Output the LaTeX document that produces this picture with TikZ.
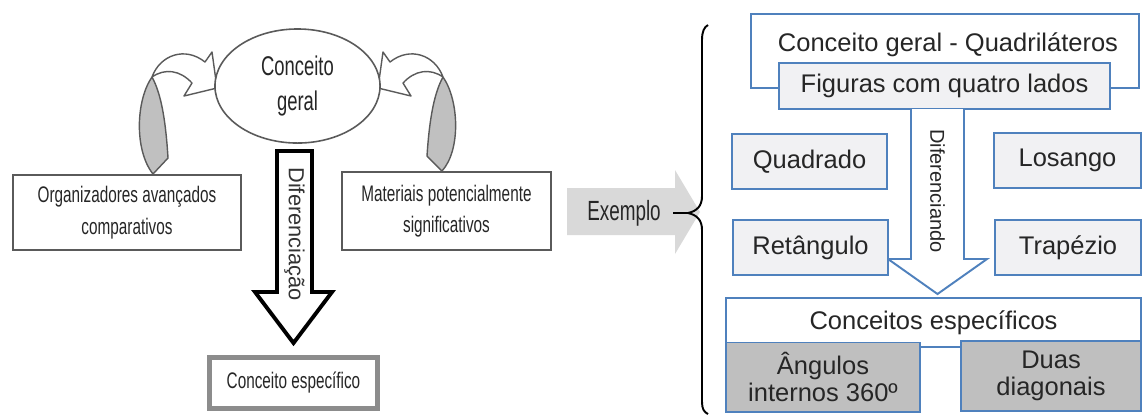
\documentclass[tikz,border=0pt]{standalone}
\usepackage{fontspec}
\setmainfont{Liberation Sans}
\newfontfamily\narrowfont[FakeStretch=0.68]{Liberation Sans}
\usepackage{tikz}
\usetikzlibrary{shapes.geometric}
\definecolor{boxblue}{RGB}{79,129,189}
\definecolor{lightfill}{RGB}{241,241,243}
\definecolor{darkfill}{RGB}{191,191,191}
\definecolor{arrowgray}{RGB}{217,217,217}
\definecolor{edgegray}{RGB}{90,90,90}
\definecolor{bandgray}{RGB}{192,192,192}

\begin{document}
\begin{tikzpicture}[x=0.01cm,y=-0.01cm,
  leftbox/.style={draw=edgegray,line width=0.5pt,fill=white,align=center,inner sep=0pt,
    font=\narrowfont\fontsize{6.4}{9}\selectfont,text=black!85},
  rightbox/.style={draw=boxblue,line width=0.55pt,align=center,inner sep=0pt,
    font=\fontsize{7.25}{7.7}\selectfont,text=black!85},
  bendarrow/.style={draw=edgegray,line width=0.4pt,line join=round}]
  \useasboundingbox (0,0) rectangle (1146,414);
  \draw[bendarrow,fill=bandgray] (152,77) .. controls (136,100) and (134,150) .. (153,174)
    -- (168,158) .. controls (166,125) and (162,95) .. (152,77);
  \draw[bendarrow,fill=white] (152,77) .. controls (160,55) and (185,46) .. (205,62)
    -- (212,52) -- (217,88) -- (184,96) -- (192,83) .. controls (180,70) and (165,68) .. (152,77) -- cycle;
  \draw[bendarrow,fill=bandgray] (443,77) .. controls (459,100) and (461,150) .. (442,171)
    -- (427,156) .. controls (429,125) and (433,95) .. (443,77);
  \draw[bendarrow,fill=white] (443,77) .. controls (435,55) and (410,46) .. (390,62)
    -- (383,52) -- (378,88) -- (411,96) -- (403,83) .. controls (415,70) and (430,68) .. (443,77) -- cycle;
  \node[ellipse,draw=edgegray,line width=0.45pt,fill=white,minimum width=1.65cm,minimum height=1.14cm,
    inner sep=0pt,align=center,font=\narrowfont\fontsize{7.7}{10}\selectfont,text=black!85] (cg) at (297.5,86) {Conceito\\geral};
  \node[leftbox,minimum width=2.28cm,minimum height=0.75cm] (org) at (127,212.5) {Organizadores avançados\\comparativos};
  \node[leftbox,minimum width=2.09cm,minimum height=0.78cm] (mat) at (446.5,211) {Materiais potencialmente\\significativos};
  \draw[line width=1.1pt,fill=white,line join=miter] (277,151) -- (312,151) -- (312,292) -- (332,292)
    -- (293.5,343) -- (255,292) -- (277,292) -- cycle;
  \node[rotate=-90,font=\fontsize{6.2}{6.5}\selectfont,text=black!80] (dif) at (294.5,234) {Diferenciação};
  \node[leftbox,draw=gray!90,line width=1.4pt,minimum width=1.68cm,minimum height=0.51cm] (ce) at (293.5,383) {Conceito específico};

  \fill[arrowgray] (567,188) -- (675,188) -- (675,170) -- (700,212) -- (675,254) -- (675,235) -- (567,235) -- cycle;
  \node[font=\narrowfont\fontsize{7.9}{8}\selectfont,text=black!85] (ex) at (624,213) {Exemplo};
  \coordinate (bt) at (688,213);
  \draw[line width=0.55pt] (ex.east) -- (bt);
  \draw[line width=0.55pt] (708,25) .. controls (704,27) and (702,32) .. (702,40) -- (702,196)
    .. controls (702,206) and (697,211) .. (bt) .. controls (697,215) and (702,220) .. (702,230)
    -- (702,402) .. controls (702,409) and (704,412) .. (708,414);

  \node[rightbox,fill=white,minimum width=3.88cm,minimum height=0.74cm] (qg) at (945,51) {};
  \node[font=\fontsize{7.25}{7.7}\selectfont,text=black!85] (qgtext) at (948,45) {Conceito geral - Quadriláteros};
  \node[rightbox,fill=lightfill,minimum width=3.31cm,minimum height=0.46cm] (fig) at (944.5,86) {Figuras com quatro lados};
  \draw[boxblue,line width=0.55pt,fill=white] (911,109) -- (911,259) -- (888,259) -- (937.5,294)
    -- (987,259) -- (964,259) -- (964,109);
  \node[rotate=-90,font=\fontsize{5.7}{6}\selectfont,text=black!85] (dfd) at (937.5,191) {Diferenciando};
  \node[rightbox,fill=lightfill,minimum width=1.55cm,minimum height=0.55cm] (qd) at (809.5,161.5) {Quadrado};
  \node[rightbox,fill=lightfill,minimum width=1.47cm,minimum height=0.55cm] (lo) at (1067.5,160.5) {Losango};
  \node[rightbox,fill=lightfill,minimum width=1.55cm,minimum height=0.55cm] (re) at (810.5,247.5) {Retângulo};
  \node[rightbox,fill=lightfill,minimum width=1.46cm,minimum height=0.55cm] (tr) at (1068,247.5) {Trapézio};
  \node[rightbox,fill=white,minimum width=4.15cm,minimum height=0.49cm] (ces) at (933.5,322.5) {Conceitos específicos};
  \node[rightbox,fill=darkfill,minimum width=1.94cm,minimum height=0.69cm] (ang) at (823,377) {Ângulos\\internos 360º};
  \node[rightbox,fill=darkfill,minimum width=1.80cm,minimum height=0.70cm] (dd) at (1051,376) {Duas\\diagonais};
\end{tikzpicture}
\end{document}
